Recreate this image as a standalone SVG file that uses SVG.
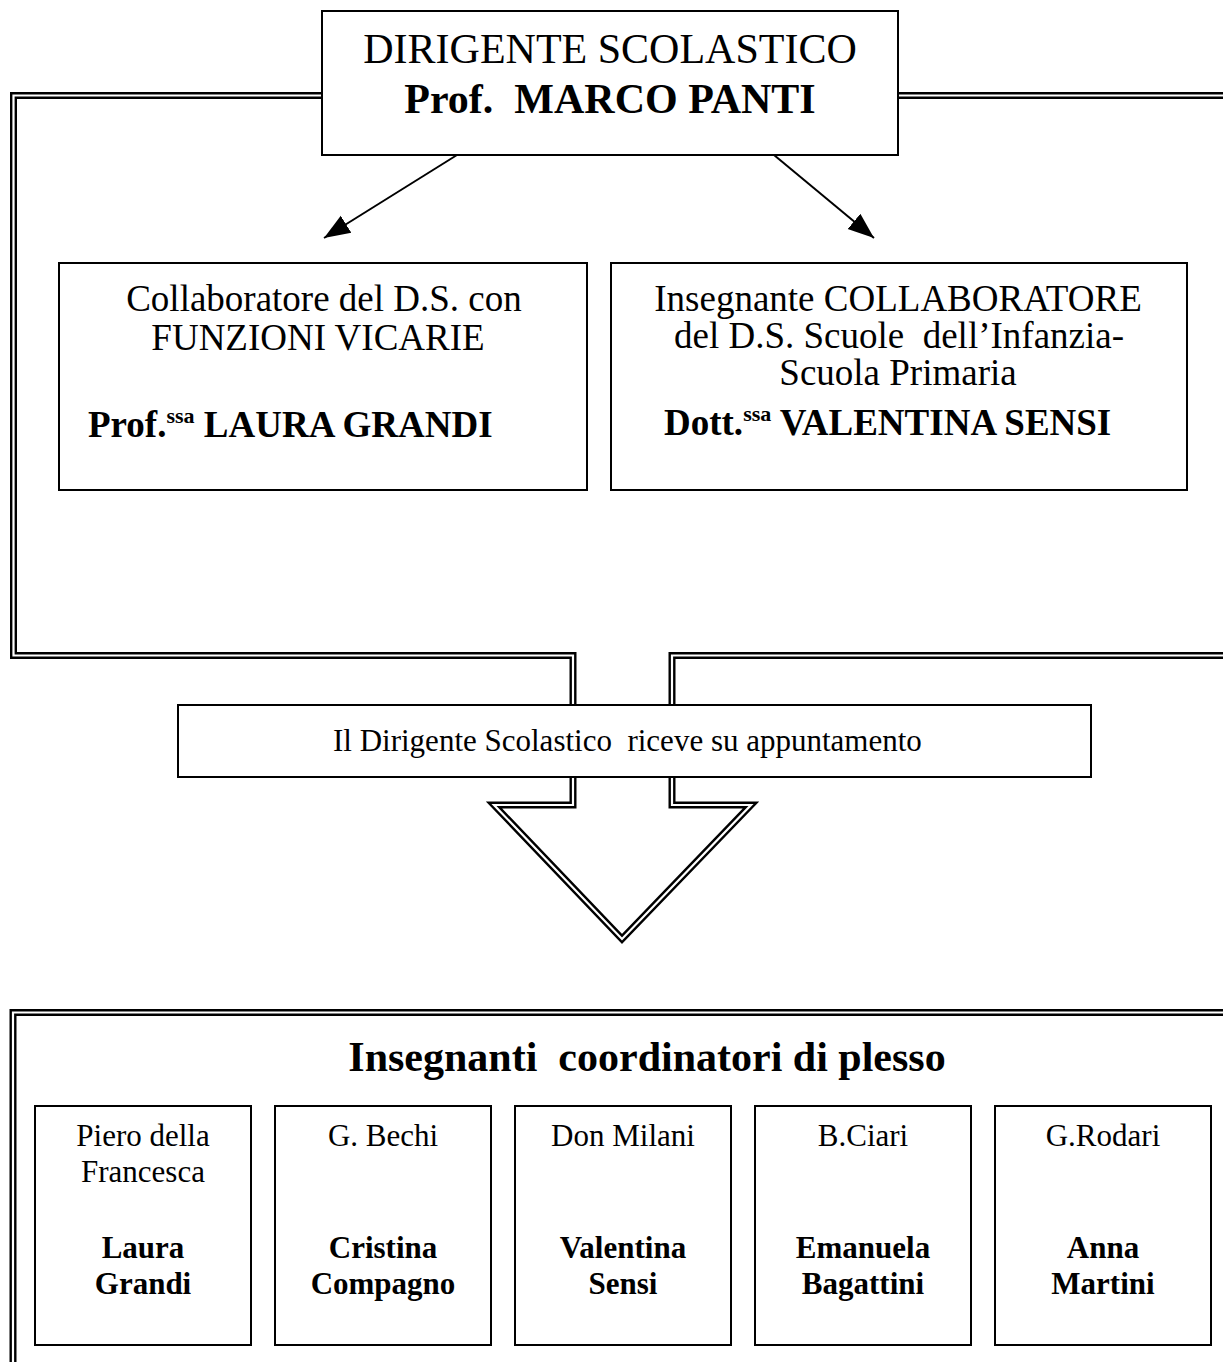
<svg xmlns="http://www.w3.org/2000/svg" width="1223" height="1362" viewBox="0 0 1223 1362">
<style>
  .box { fill: #fff; stroke: #000; stroke-width: 2; }
  .dbl-out { fill: none; stroke: #000; stroke-width: 7; stroke-linejoin: miter; }
  .dbl-in { fill: none; stroke: #fff; stroke-width: 2.2; stroke-linejoin: miter; }
  .arr { stroke: #000; stroke-width: 2; fill: none; }
  text { font-family: "Liberation Serif", "Times New Roman", serif; fill: #000; }
  .t42 { font-size: 42px; }
  .t37 { font-size: 37px; }
  .t31 { font-size: 31px; }
  .b { font-weight: bold; }
  .sup { font-size: 22px; }
  .c { text-anchor: middle; }
</style>
<defs>
  <marker id="ah" markerUnits="userSpaceOnUse" markerWidth="28" markerHeight="22" refX="26" refY="11" orient="auto">
    <path d="M0,1 L26,11 L0,21 Z" fill="#000"/>
  </marker>
</defs>
<rect width="1223" height="1362" fill="#fff"/>

<g id="connectors">
  <path id="big-arrow-outer" class="dbl-out" d="M13.5,95.5 L1240,95.5 L1240,655.5 L672,655.5 L672,805 L751,805 L622,939 L494,805 L573,805 L573,655.5 L13.5,655.5 Z"/>
  <path class="dbl-in" d="M13.5,95.5 L1240,95.5 L1240,655.5 L672,655.5 L672,805 L751,805 L622,939 L494,805 L573,805 L573,655.5 L13.5,655.5 Z"/>
  <line class="arr" x1="457" y1="155" x2="324" y2="238" marker-end="url(#ah)"/>
  <line class="arr" x1="774" y1="155" x2="874" y2="238" marker-end="url(#ah)"/>
</g>

<g id="dirigente">
  <rect class="box" x="322" y="11" width="576" height="144"/>
  <text class="t42 c" x="610" y="63">DIRIGENTE SCOLASTICO</text>
  <text class="t42 c b" x="610" y="113" xml:space="preserve">Prof.  MARCO PANTI</text>
</g>

<g id="vicario">
  <rect class="box" x="59" y="263" width="528" height="227"/>
  <text class="t37 c" x="324" y="311">Collaboratore del D.S. con</text>
  <text class="t37 c" x="318" y="350">FUNZIONI VICARIE</text>
  <text class="t37 b" x="88" y="437">Prof.<tspan class="sup" dy="-14">ssa</tspan><tspan dy="14"> LAURA GRANDI</tspan></text>
</g>

<g id="collaboratore">
  <rect class="box" x="611" y="263" width="576" height="227"/>
  <text class="t37 c" x="898" y="311">Insegnante COLLABORATORE</text>
  <text class="t37 c" x="899" y="348" xml:space="preserve">del D.S. Scuole  dell’Infanzia-</text>
  <text class="t37 c" x="898" y="385">Scuola Primaria</text>
  <text class="t37 b" x="664" y="435">Dott.<tspan class="sup" dy="-14">ssa</tspan><tspan dy="14"> VALENTINA SENSI</tspan></text>
</g>

<g id="ricevimento">
  <rect class="box" x="178" y="705" width="913" height="72"/>
  <text class="t31" x="333" y="751" xml:space="preserve">Il Dirigente Scolastico  riceve su appuntamento</text>
</g>

<g id="coordinatori">
  <path class="dbl-out" d="M13,1400 L13,1012.5 L1300,1012.5"/>
  <path class="dbl-in" d="M13,1400 L13,1012.5 L1300,1012.5"/>
  <text class="t42 b c" x="647" y="1071" xml:space="preserve">Insegnanti  coordinatori di plesso</text>
</g>

<g id="plesso-piero">
  <rect class="box" x="35" y="1106" width="216" height="239"/>
  <text class="t31 c" x="143" y="1146">Piero della</text>
  <text class="t31 c" x="143" y="1182">Francesca</text>
  <text class="t31 c b" x="143" y="1258">Laura</text>
  <text class="t31 c b" x="143" y="1294">Grandi</text>
</g>
<g id="plesso-bechi">
  <rect class="box" x="275" y="1106" width="216" height="239"/>
  <text class="t31 c" x="383" y="1146">G. Bechi</text>
  <text class="t31 c b" x="383" y="1258">Cristina</text>
  <text class="t31 c b" x="383" y="1294">Compagno</text>
</g>
<g id="plesso-milani">
  <rect class="box" x="515" y="1106" width="216" height="239"/>
  <text class="t31 c" x="623" y="1146">Don Milani</text>
  <text class="t31 c b" x="623" y="1258">Valentina</text>
  <text class="t31 c b" x="623" y="1294">Sensi</text>
</g>
<g id="plesso-ciari">
  <rect class="box" x="755" y="1106" width="216" height="239"/>
  <text class="t31 c" x="863" y="1146">B.Ciari</text>
  <text class="t31 c b" x="863" y="1258">Emanuela</text>
  <text class="t31 c b" x="863" y="1294">Bagattini</text>
</g>
<g id="plesso-rodari">
  <rect class="box" x="995" y="1106" width="216" height="239"/>
  <text class="t31 c" x="1103" y="1146">G.Rodari</text>
  <text class="t31 c b" x="1103" y="1258">Anna</text>
  <text class="t31 c b" x="1103" y="1294">Martini</text>
</g>
</svg>
